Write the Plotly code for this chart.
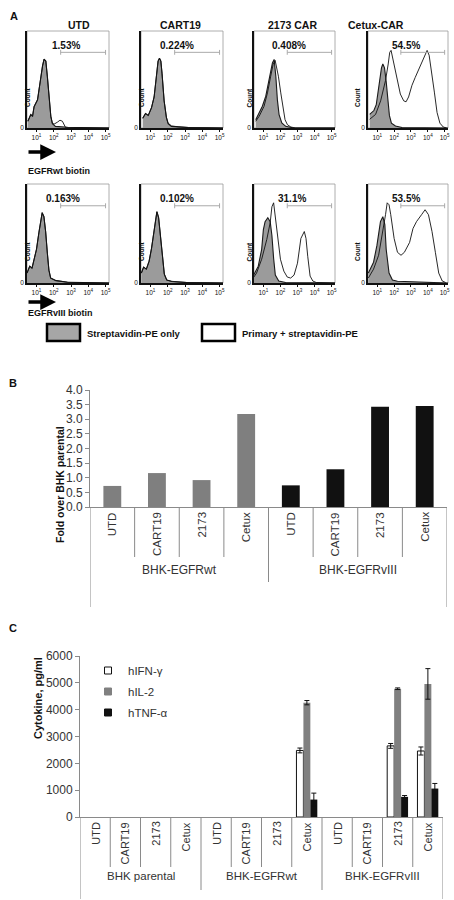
import plotly.graph_objects as go

W, H = 454, 900
FONT = "Liberation Sans, Arial, sans-serif"


def px(x):
    return x / W


def py(y):
    return 1 - y / H


# ---------------- Panel A data (log10 fluorescence, relative count) ----------------
a_titles = ["UTD", "CART19", "2173 CAR", "Cetux-CAR"]
a_row_labels = ["EGFRwt biotin", "EGFRvIII biotin"]
a_pcts = [["1.53%", "0.224%", "0.408%", "54.5%"],
          ["0.163%", "0.102%", "31.1%", "53.5%"]]
a_ticks = [1, 2, 3, 4, 5]
a_ticktext = ["10<sup>1</sup>", "10<sup>2</sup>", "10<sup>3</sup>", "10<sup>4</sup>", "10<sup>5</sup>"]
gate_lo, gate_hi, gate_level = 2.4, 5.0, 78
legend_a = ["Streptavidin-PE only", "Primary + streptavidin-PE"]

# EGFRwt row
wt_utd_ctrl_x = [0.50, 0.67, 0.77, 0.86, 1.06, 1.15, 1.25, 1.35, 1.44, 1.54, 1.63, 1.73, 1.83, 1.92, 2.10, 2.80, 5.20]
wt_utd_ctrl_y = [7, 14, 12, 22, 29, 41, 50, 64, 71, 69, 53, 29, 12, 4.5, 1.7, 0.7, 0]
wt_utd_samp_x = [0.50, 0.67, 0.77, 0.86, 1.06, 1.15, 1.25, 1.35, 1.44, 1.54, 1.63, 1.73, 1.83, 1.92, 2.02, 2.21, 2.36, 2.50, 2.60, 2.69, 5.20]
wt_utd_samp_y = [7, 14, 12, 22, 29, 41, 50, 64, 71, 69, 53, 29, 12, 5, 4, 6, 8, 7, 2.4, 0.3, 0]

wt_cart19_ctrl_x = [0.55, 0.71, 0.87, 1.06, 1.21, 1.29, 1.37, 1.44, 1.52, 1.60, 1.67, 1.79, 1.92, 2.02, 2.21, 2.60, 3.20, 5.20]
wt_cart19_ctrl_y = [10, 15, 13, 21, 32, 45, 56, 69, 72, 69, 56, 28, 11, 4.4, 1.7, 1, 0.4, 0]
wt_cart19_samp_x = [0.55, 0.71, 0.87, 1.06, 1.21, 1.29, 1.37, 1.44, 1.52, 1.60, 1.67, 1.79, 1.92, 2.02, 2.21, 2.60, 3.20, 5.20]
wt_cart19_samp_y = [10, 15, 13, 21, 32, 45, 56, 69, 72, 69, 56, 28, 11, 5, 2.2, 1.2, 0.5, 0]

wt_2173_ctrl_x = [0.55, 0.75, 0.94, 1.14, 1.29, 1.43, 1.53, 1.63, 1.73, 1.82, 1.92, 2.08, 2.31, 2.71, 5.20]
wt_2173_ctrl_y = [8.6, 15.5, 22.4, 32.8, 46.6, 60.3, 67.2, 70.7, 53.4, 29.3, 13.8, 5.2, 1.7, 0.3, 0]
wt_2173_samp_x = [0.55, 0.75, 1.04, 1.24, 1.43, 1.57, 1.69, 1.76, 1.88, 2.02, 2.16, 2.27, 2.41, 2.61, 2.90, 5.20]
wt_2173_samp_y = [6.9, 12, 22.4, 36.2, 53.4, 65.5, 69.7, 63.8, 53.4, 36.2, 19, 8.6, 3.4, 1, 0, 0]

wt_cetux_ctrl_x = [0.55, 0.80, 0.94, 1.06, 1.16, 1.25, 1.33, 1.43, 1.53, 1.63, 1.72, 1.84, 2.08, 2.47, 5.20]
wt_cetux_ctrl_y = [14, 18, 24, 38, 52, 62, 66, 62, 48, 30, 13, 5, 2, 0.5, 0]
wt_cetux_samp_x = [0.55, 0.90, 1.20, 1.49, 1.65, 1.74, 1.82, 1.92, 2.04, 2.18, 2.37, 2.57, 2.71, 2.86, 3.06, 3.25, 3.45, 3.69, 3.84, 3.96, 4.08, 4.23, 4.39, 4.55, 4.72, 4.92, 5.12]
wt_cetux_samp_y = [9, 14, 28, 49, 66, 78, 80, 72, 62, 49, 35, 28, 27, 32, 44, 52, 60, 70, 77, 80, 75, 58, 37, 16, 5, 1, 0]

# EGFRvIII row
v3_utd_ctrl_x = [0.45, 0.61, 0.74, 0.84, 1.00, 1.14, 1.23, 1.33, 1.43, 1.53, 1.63, 1.72, 1.82, 2.12, 2.80, 5.20]
v3_utd_ctrl_y = [10, 17, 15, 23, 34, 51, 62, 71, 67, 52, 30, 13, 5, 2.4, 0.7, 0]
v3_utd_samp_x = [0.45, 0.61, 0.74, 0.84, 1.00, 1.14, 1.23, 1.33, 1.43, 1.53, 1.63, 1.72, 1.82, 2.12, 2.80, 5.20]
v3_utd_samp_y = [10, 17, 15, 23, 34, 51, 62, 71, 67, 52, 30, 13, 5, 2.6, 0.8, 0]

v3_cart19_ctrl_x = [0.47, 0.60, 0.76, 0.92, 1.06, 1.19, 1.27, 1.37, 1.47, 1.57, 1.68, 1.80, 1.94, 2.23, 3.10, 5.20]
v3_cart19_ctrl_y = [10, 16, 14, 22, 35, 52, 63, 72, 66, 48, 25, 9, 3, 1.5, 0.4, 0]
v3_cart19_samp_x = [0.47, 0.60, 0.76, 0.92, 1.06, 1.19, 1.27, 1.37, 1.47, 1.57, 1.68, 1.80, 1.94, 2.23, 3.10, 5.20]
v3_cart19_samp_y = [10, 16, 14, 22, 35, 52, 63, 72, 66, 48, 25, 9, 3, 1.7, 0.5, 0]

v3_2173_ctrl_x = [0.40, 0.70, 0.90, 1.00, 1.10, 1.26, 1.40, 1.50, 1.60, 1.70, 1.90, 2.30, 5.20]
v3_2173_ctrl_y = [7, 17, 34, 54, 62, 66, 62, 48, 25, 8, 2, 0.5, 0]
v3_2173_samp_x = [0.40, 0.60, 0.90, 1.20, 1.40, 1.50, 1.60, 1.70, 1.80, 2.00, 2.20, 2.40, 2.60, 2.80, 3.00, 3.20, 3.40, 3.50, 3.60, 3.74, 3.90, 4.10, 5.20]
v3_2173_samp_y = [5, 10, 24, 44, 61, 77, 81, 67, 47, 24, 12, 6, 5, 8, 20, 45, 52, 45, 27, 7, 2, 0.5, 0]

v3_cetux_ctrl_x = [0.47, 0.78, 0.98, 1.19, 1.33, 1.45, 1.53, 1.70, 1.90, 2.20, 5.20]
v3_cetux_ctrl_y = [10, 21, 38, 62, 67, 59, 34, 10, 3, 1.7, 0]
v3_cetux_samp_x = [0.47, 0.78, 1.08, 1.29, 1.49, 1.59, 1.70, 1.80, 2.00, 2.20, 2.41, 2.61, 2.92, 3.12, 3.33, 3.63, 3.84, 4.04, 4.25, 4.45, 4.65, 4.86, 5.06]
v3_cetux_samp_y = [5, 14, 28, 48, 69, 81, 79, 69, 45, 31, 28, 31, 41, 55, 62, 69, 74, 69, 52, 31, 10, 2, 0.5]

a_hists = [
    [(wt_utd_ctrl_x, wt_utd_ctrl_y, wt_utd_samp_x, wt_utd_samp_y),
     (wt_cart19_ctrl_x, wt_cart19_ctrl_y, wt_cart19_samp_x, wt_cart19_samp_y),
     (wt_2173_ctrl_x, wt_2173_ctrl_y, wt_2173_samp_x, wt_2173_samp_y),
     (wt_cetux_ctrl_x, wt_cetux_ctrl_y, wt_cetux_samp_x, wt_cetux_samp_y)],
    [(v3_utd_ctrl_x, v3_utd_ctrl_y, v3_utd_samp_x, v3_utd_samp_y),
     (v3_cart19_ctrl_x, v3_cart19_ctrl_y, v3_cart19_samp_x, v3_cart19_samp_y),
     (v3_2173_ctrl_x, v3_2173_ctrl_y, v3_2173_samp_x, v3_2173_samp_y),
     (v3_cetux_ctrl_x, v3_cetux_ctrl_y, v3_cetux_samp_x, v3_cetux_samp_y)],
]

# ---------------- Panel B data ----------------
b_groups = ["BHK-EGFRwt", "BHK-EGFRvIII"]
b_cats = ["UTD", "CART19", "2173", "Cetux"]
b_wt = [0.72, 1.16, 0.92, 3.18]
b_viii = [0.74, 1.29, 3.43, 3.45]
b_ytitle = "Fold over BHK parental"

# ---------------- Panel C data ----------------
c_groups = ["BHK parental", "BHK-EGFRwt", "BHK-EGFRvIII"]
c_cats = ["UTD", "CART19", "2173", "Cetux"]
c_series = ["hIFN-γ", "hIL-2", "hTNF-α"]
c_ifn = [0, 0, 0, 0, 0, 0, 0, 2480, 0, 0, 2650, 2460]
c_ifn_err = [0, 0, 0, 0, 0, 0, 0, 90, 0, 0, 90, 150]
c_il2 = [0, 0, 0, 0, 0, 0, 0, 4260, 0, 0, 4780, 4960]
c_il2_err = [0, 0, 0, 0, 0, 0, 0, 80, 0, 0, 30, 570]
c_tnf = [0, 0, 0, 0, 0, 0, 0, 650, 0, 0, 750, 1060]
c_tnf_err = [0, 0, 0, 0, 0, 0, 0, 240, 0, 0, 50, 190]
c_ytitle = "Cytokine, pg/ml"

# ---------------- Layout geometry (pixels) ----------------
a_cols = [(27, 109), (141, 223), (254, 335), (368, 448)]
a_rows = [(31, 128), (184, 283)]
b_box = (90, 447, 390, 507)
c_box = (80, 443, 656, 817)

fig = go.Figure()
layout = dict(
    width=W, height=H, margin=dict(l=0, r=0, t=0, b=0, pad=0, autoexpand=False),
    paper_bgcolor="white", plot_bgcolor="white",
    font=dict(family=FONT, color="#222"),
    showlegend=True, barmode="group", bargap=0.31, bargroupgap=0,
)
shapes = []
annotations = []

CTRL_FILL = "#9b9b9b"

for r in range(2):
    for c in range(4):
        idx = r * 4 + c + 1
        xa = "x" if idx == 1 else f"x{idx}"
        ya = "y" if idx == 1 else f"y{idx}"
        cx, cy, sx, sy = a_hists[r][c]
        fig.add_trace(go.Scatter(x=cx, y=cy, mode="lines", fill="tozeroy",
                                 fillcolor=CTRL_FILL, line=dict(color="#1a1a1a", width=1.1),
                                 xaxis=xa, yaxis=ya, showlegend=False, hoverinfo="skip"))
        fig.add_trace(go.Scatter(x=sx, y=sy, mode="lines",
                                 line=dict(color="#111", width=0.9),
                                 xaxis=xa, yaxis=ya, showlegend=False, hoverinfo="skip"))
        x0, x1 = a_cols[c]
        yt, yb = a_rows[r]
        layout["xaxis" if idx == 1 else f"xaxis{idx}"] = dict(
            domain=[px(x0), px(x1)], range=[0.45, 5.2], anchor=ya, automargin=False,
            tickvals=a_ticks, ticktext=a_ticktext, tickfont=dict(size=6.5, color="#111"),
            ticks="outside", ticklen=2, tickcolor="#111",
            showline=True, linecolor="#111", linewidth=1.5,
            showgrid=False, zeroline=False, fixedrange=True)
        layout["yaxis" if idx == 1 else f"yaxis{idx}"] = dict(
            domain=[py(yb), py(yt)], range=[0, 100], anchor=xa, automargin=False,
            tickvals=[0], ticktext=["0"], tickfont=dict(size=6.5, color="#111"),
            ticks="", showline=True, linecolor="#111", linewidth=1.5,
            showgrid=False, zeroline=False, fixedrange=True)
        # thin frame
        shapes.append(dict(type="rect", xref=f"{xa} domain", yref=f"{ya} domain",
                           x0=0, x1=1, y0=0, y1=1, line=dict(color="#999", width=0.8),
                           layer="below"))
        # gate
        gcol = "#aaa"
        shapes.append(dict(type="line", xref=xa, yref=ya, x0=gate_lo, x1=gate_hi,
                           y0=gate_level, y1=gate_level, line=dict(color=gcol, width=1)))
        for gx in (gate_lo, gate_hi):
            shapes.append(dict(type="line", xref=xa, yref=ya, x0=gx, x1=gx,
                               y0=gate_level - 2.5, y1=gate_level + 2.5,
                               line=dict(color=gcol, width=1)))
        annotations.append(dict(text=f"<b>{a_pcts[r][c]}</b>", xref=f"{xa} domain",
                                yref=f"{ya} domain", x=0.67, y=0.93, showarrow=False,
                                font=dict(size=10, color="#111")))
        annotations.append(dict(text="<b>Count</b>", xref="paper", yref="paper",
                                x=px(x0 - 5), y=py((yt + yb) / 2 + 6), textangle=-90,
                                showarrow=False, font=dict(size=6.5, color="#111")))
        if r == 0:
            annotations.append(dict(text=f"<b>{a_titles[c]}</b>", xref="paper", yref="paper",
                                    x=px((x0 + x1) / 2 - 2), y=py(17), showarrow=False,
                                    font=dict(size=10.5, color="#111")))

# arrows + row labels
for r, (ay_px, ty_px) in enumerate([(152, 164), (302, 313)]):
    annotations.append(dict(text="", xref="paper", yref="paper", x=px(56), y=py(ay_px),
                            ax=-29, ay=0, showarrow=True, arrowhead=2, arrowsize=0.9,
                            arrowwidth=3.5, arrowcolor="#000"))
    annotations.append(dict(text=f"<b>{a_row_labels[r]}</b>", xref="paper", yref="paper",
                            x=px(26), y=py(ty_px), xanchor="left", showarrow=False,
                            font=dict(size=9, color="#111")))

# panel A legend
shapes.append(dict(type="rect", xref="paper", yref="paper", x0=px(47), x1=px(80),
                   y0=py(341), y1=py(324), fillcolor="#a6a6a6", line=dict(color="#000", width=2.5)))
shapes.append(dict(type="rect", xref="paper", yref="paper", x0=px(202), x1=px(235),
                   y0=py(341), y1=py(324), fillcolor="white", line=dict(color="#000", width=2.5)))
annotations.append(dict(text=f"<b>{legend_a[0]}</b>", xref="paper", yref="paper", x=px(85),
                        y=py(333), xanchor="left", showarrow=False, font=dict(size=9.5, color="#111")))
annotations.append(dict(text=f"<b>{legend_a[1]}</b>", xref="paper", yref="paper", x=px(240),
                        y=py(333), xanchor="left", showarrow=False, font=dict(size=9.5, color="#111")))

# panel letters
for letter, (lx, ly) in zip("ABC", [(8, 8), (7, 383), (7, 636)]):
    annotations.append(dict(text=f"<b>{letter}</b>", xref="paper", yref="paper", x=px(lx),
                            y=py(ly), showarrow=False, font=dict(size=11, color="#111")))

# ---------------- Panel B ----------------
b_vals = b_wt + b_viii
b_colors = ["#7f7f7f"] * len(b_wt) + ["#111111"] * len(b_viii)
fig.add_trace(go.Bar(x=list(range(len(b_vals))), y=b_vals, width=0.4,
                     marker=dict(color=b_colors, line=dict(width=0)),
                     xaxis="x9", yaxis="y9", showlegend=False, hoverinfo="skip"))
AX = "#8a8a8a"
layout["xaxis9"] = dict(domain=[px(b_box[0]), px(b_box[1])], range=[-0.5, 7.5], anchor="y9",
                        showticklabels=False, ticks="", showline=True, linecolor=AX,
                        linewidth=1, showgrid=False, zeroline=False, fixedrange=True,
                        automargin=False)
layout["yaxis9"] = dict(domain=[py(b_box[3]), py(b_box[2])], range=[0, 4], anchor="x9",
                        dtick=0.5, tickformat=".1f", ticks="outside", ticklen=4, tickcolor=AX,
                        tickfont=dict(size=12, color="#333"), showline=True, linecolor=AX,
                        linewidth=1, showgrid=False, zeroline=False, fixedrange=True,
                        automargin=False)
n_b = len(b_vals)
for k in range(n_b + 1):
    xpos = k - 0.5
    if k == 0 or k == n_b:
        ybot = 607
    elif k % 4 == 0:
        ybot = 582
    else:
        ybot = 557
    shapes.append(dict(type="line", xref="x9", yref="paper", x0=xpos, x1=xpos,
                       y0=py(b_box[3]), y1=py(ybot), line=dict(color=AX, width=1)))
for i in range(n_b):
    annotations.append(dict(text=b_cats[i % 4], xref="x9", yref="paper", x=i, y=py(510),
                            xanchor="center", yanchor="top", textangle=-90, showarrow=False,
                            font=dict(size=11.5, color="#333")))
for g, name in enumerate(b_groups):
    annotations.append(dict(text=name, xref="x9", yref="paper", x=g * 4 + 1.5, y=py(570),
                            showarrow=False, font=dict(size=12, color="#333")))
annotations.append(dict(text=f"<b>{b_ytitle}</b>", xref="paper", yref="paper", x=px(52),
                        y=py(485), textangle=-90, showarrow=False,
                        font=dict(size=10.5, color="#111")))

# ---------------- Panel C ----------------
n_c = len(c_ifn)
cx_pos = list(range(n_c))
err_style = dict(type="data", visible=True, color="#111", thickness=1, width=2.5)


def shown(vals):
    # zero readings draw no bar (and no error cap)
    return [v if v > 0 else None for v in vals]


fig.add_trace(go.Bar(x=cx_pos, y=shown(c_ifn), name=c_series[0],
                     marker=dict(color="white", line=dict(color="#111", width=1)),
                     error_y=dict(array=c_ifn_err, **err_style),
                     xaxis="x10", yaxis="y10", showlegend=False, hoverinfo="skip"))
fig.add_trace(go.Bar(x=cx_pos, y=shown(c_il2), name=c_series[1],
                     marker=dict(color="#808080", line=dict(width=0)),
                     error_y=dict(array=c_il2_err, **err_style),
                     xaxis="x10", yaxis="y10", showlegend=False, hoverinfo="skip"))
fig.add_trace(go.Bar(x=cx_pos, y=shown(c_tnf), name=c_series[2],
                     marker=dict(color="#111111", line=dict(width=0)),
                     error_y=dict(array=c_tnf_err, **err_style),
                     xaxis="x10", yaxis="y10", showlegend=False, hoverinfo="skip"))
# legend entries
for name, fc, lc, grp in [(c_series[0], "white", "#111", "g1"),
                          (c_series[1], "#808080", "#808080", "g2"),
                          (c_series[2], "#111111", "#111111", "g3")]:
    fig.add_trace(go.Scatter(x=[None], y=[None], mode="markers", name=name, legendgroup=grp,
                             marker=dict(symbol="square", size=7, color=fc,
                                         line=dict(color=lc, width=1)),
                             xaxis="x10", yaxis="y10", showlegend=True, hoverinfo="skip"))
layout["legend"] = dict(x=px(88), y=py(656), xanchor="left", yanchor="top",
                        bgcolor="rgba(0,0,0,0)", font=dict(size=11.5, color="#333"),
                        itemsizing="trace", tracegroupgap=2, itemwidth=30)
layout["xaxis10"] = dict(domain=[px(c_box[0]), px(c_box[1])], range=[-0.5, n_c - 0.5],
                         anchor="y10", showticklabels=False, ticks="", showline=True,
                         linecolor=AX, linewidth=1, showgrid=False, zeroline=False,
                         fixedrange=True, automargin=False)
layout["yaxis10"] = dict(domain=[py(c_box[3]), py(c_box[2])], range=[0, 6000], anchor="x10",
                         dtick=1000, ticks="outside", ticklen=4, tickcolor=AX,
                         tickfont=dict(size=12, color="#333"), showline=True, linecolor=AX,
                         linewidth=1, showgrid=False, zeroline=False, fixedrange=True,
                         automargin=False)
for k in range(n_c + 1):
    xpos = k - 0.5
    if k == 0 or k == n_c:
        ybot = 899
    elif k % 4 == 0:
        ybot = 890
    else:
        ybot = 867
    shapes.append(dict(type="line", xref="x10", yref="paper", x0=xpos, x1=xpos,
                       y0=py(c_box[3]), y1=py(ybot), line=dict(color=AX, width=1)))
for i in range(n_c):
    annotations.append(dict(text=c_cats[i % 4], xref="x10", yref="paper", x=i, y=py(820),
                            xanchor="center", yanchor="top", textangle=-90, showarrow=False,
                            font=dict(size=11, color="#333")))
for g, name in enumerate(c_groups):
    annotations.append(dict(text=name, xref="x10", yref="paper", x=g * 4 + 1.5, y=py(884),
                            showarrow=False, font=dict(size=11.5, color="#333")))
annotations.append(dict(text=f"<b>{c_ytitle}</b>", xref="paper", yref="paper", x=px(30),
                        y=py(741), textangle=-90, showarrow=False,
                        font=dict(size=11, color="#111")))

layout["shapes"] = shapes
layout["annotations"] = annotations
fig.update_layout(**layout)
fig.write_html("out.html", config={"displayModeBar": False},
               post_script="document.body.style.margin='0';document.body.style.padding='0';")
